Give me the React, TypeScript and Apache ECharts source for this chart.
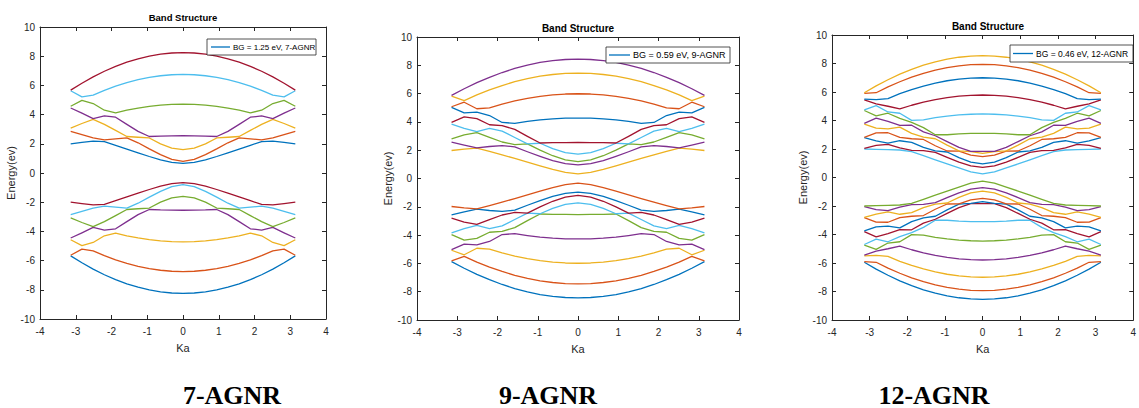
import React, { useEffect, useRef } from "react";
import * as echarts from "echarts";

// Ka sample points (-pi .. pi)
const ka = [-3.1416, -2.8274, -2.5133, -2.1991, -1.885, -1.5708, -1.2566, -0.9425, -0.6283, -0.3142, 0, 0.3142, 0.6283, 0.9425, 1.2566, 1.5708, 1.885, 2.1991, 2.5133, 2.8274, 3.1416];

const xTicks = [-4, -3, -2, -1, 0, 1, 2, 3, 4];
const yTicks = [-10, -8, -6, -4, -2, 0, 2, 4, 6, 8, 10];

const matlabColors = ["#0072BD", "#D95319", "#EDB120", "#7E2F8E", "#77AC30", "#4DBEEE", "#A2142F"];

// ---------- 7-AGNR (14 bands, sorted) ----------
const agnr7_b01 = [-5.68, -6.15, -6.58, -6.97, -7.30, -7.59, -7.82, -8.01, -8.14, -8.22, -8.25, -8.22, -8.14, -8.01, -7.82, -7.59, -7.30, -6.97, -6.58, -6.15, -5.68];
const agnr7_b02 = [-5.63, -5.21, -5.34, -5.66, -5.95, -6.19, -6.39, -6.55, -6.66, -6.73, -6.75, -6.73, -6.66, -6.55, -6.39, -6.19, -5.95, -5.66, -5.34, -5.21, -5.63];
const agnr7_b03 = [-4.57, -4.97, -4.76, -4.30, -4.12, -4.31, -4.45, -4.57, -4.65, -4.70, -4.72, -4.70, -4.65, -4.57, -4.45, -4.31, -4.12, -4.30, -4.76, -4.97, -4.57];
const agnr7_b04 = [-4.45, -4.10, -3.73, -3.91, -3.82, -3.33, -2.85, -2.50, -2.53, -2.54, -2.55, -2.54, -2.53, -2.50, -2.85, -3.33, -3.82, -3.91, -3.73, -4.10, -4.45];
const agnr7_b05 = [-3.08, -3.39, -3.67, -3.33, -2.92, -2.50, -2.45, -2.40, -2.00, -1.71, -1.60, -1.71, -2.00, -2.40, -2.45, -2.50, -2.92, -3.33, -3.67, -3.39, -3.08];
const agnr7_b06 = [-2.85, -2.63, -2.40, -2.27, -2.34, -2.40, -2.07, -1.65, -1.26, -0.94, -0.80, -0.94, -1.26, -1.65, -2.07, -2.40, -2.34, -2.27, -2.40, -2.63, -2.85];
const agnr7_b07 = [-2.00, -2.10, -2.19, -2.15, -1.90, -1.64, -1.38, -1.13, -0.90, -0.73, -0.66, -0.73, -0.90, -1.13, -1.38, -1.64, -1.90, -2.15, -2.19, -2.10, -2.00];
const agnr7_b08 = [2.00, 2.10, 2.19, 2.15, 1.90, 1.64, 1.38, 1.13, 0.90, 0.73, 0.66, 0.73, 0.90, 1.13, 1.38, 1.64, 1.90, 2.15, 2.19, 2.10, 2.00];
const agnr7_b09 = [2.85, 2.63, 2.40, 2.27, 2.34, 2.40, 2.07, 1.65, 1.26, 0.94, 0.80, 0.94, 1.26, 1.65, 2.07, 2.40, 2.34, 2.27, 2.40, 2.63, 2.85];
const agnr7_b10 = [3.08, 3.39, 3.67, 3.33, 2.92, 2.50, 2.45, 2.40, 2.00, 1.71, 1.60, 1.71, 2.00, 2.40, 2.45, 2.50, 2.92, 3.33, 3.67, 3.39, 3.08];
const agnr7_b11 = [4.45, 4.10, 3.73, 3.91, 3.82, 3.33, 2.85, 2.50, 2.53, 2.54, 2.55, 2.54, 2.53, 2.50, 2.85, 3.33, 3.82, 3.91, 3.73, 4.10, 4.45];
const agnr7_b12 = [4.57, 4.97, 4.76, 4.30, 4.12, 4.31, 4.45, 4.57, 4.65, 4.70, 4.72, 4.70, 4.65, 4.57, 4.45, 4.31, 4.12, 4.30, 4.76, 4.97, 4.57];
const agnr7_b13 = [5.63, 5.21, 5.34, 5.66, 5.95, 6.19, 6.39, 6.55, 6.66, 6.73, 6.75, 6.73, 6.66, 6.55, 6.39, 6.19, 5.95, 5.66, 5.34, 5.21, 5.63];
const agnr7_b14 = [5.68, 6.15, 6.58, 6.97, 7.30, 7.59, 7.82, 8.01, 8.14, 8.22, 8.25, 8.22, 8.14, 8.01, 7.82, 7.59, 7.30, 6.97, 6.58, 6.15, 5.68];

// ---------- 9-AGNR (18 bands, sorted) ----------
const agnr9_b01 = [-5.87, -6.34, -6.77, -7.15, -7.49, -7.78, -8.01, -8.20, -8.33, -8.41, -8.44, -8.41, -8.33, -8.20, -8.01, -7.78, -7.49, -7.15, -6.77, -6.34, -5.87];
const agnr9_b02 = [-5.82, -5.51, -5.91, -6.26, -6.57, -6.84, -7.06, -7.23, -7.35, -7.43, -7.45, -7.43, -7.35, -7.23, -7.06, -6.84, -6.57, -6.26, -5.91, -5.51, -5.82];
const agnr9_b03 = [-5.07, -5.39, -4.93, -4.99, -5.25, -5.48, -5.66, -5.80, -5.91, -5.97, -5.99, -5.97, -5.91, -5.80, -5.66, -5.48, -5.25, -4.99, -4.93, -5.39, -5.07];
const agnr9_b04 = [-5.02, -4.64, -4.69, -4.45, -3.96, -3.90, -4.03, -4.14, -4.21, -4.26, -4.27, -4.26, -4.21, -4.14, -4.03, -3.90, -3.96, -4.45, -4.69, -4.64, -5.02];
const agnr9_b05 = [-3.97, -4.35, -4.23, -3.80, -3.74, -3.47, -2.98, -2.51, -2.53, -2.54, -2.55, -2.54, -2.53, -2.51, -2.98, -3.47, -3.74, -3.80, -4.23, -4.35, -3.97];
const agnr9_b06 = [-3.84, -3.55, -3.32, -3.54, -3.35, -2.90, -2.45, -2.49, -2.11, -1.83, -1.72, -1.83, -2.11, -2.49, -2.45, -2.90, -3.35, -3.54, -3.32, -3.55, -3.84];
const agnr9_b07 = [-2.80, -3.08, -3.24, -2.91, -2.58, -2.40, -2.45, -2.01, -1.61, -1.32, -1.20, -1.32, -1.61, -2.01, -2.45, -2.40, -2.58, -2.91, -3.24, -3.08, -2.80];
const agnr9_b08 = [-2.57, -2.36, -2.17, -2.26, -2.33, -2.23, -1.89, -1.57, -1.27, -1.05, -0.97, -1.05, -1.27, -1.57, -1.89, -2.23, -2.33, -2.26, -2.17, -2.36, -2.57];
const agnr9_b09 = [-1.98, -2.08, -2.14, -1.91, -1.67, -1.42, -1.16, -0.90, -0.65, -0.44, -0.33, -0.44, -0.65, -0.90, -1.16, -1.42, -1.67, -1.91, -2.14, -2.08, -1.98];
const agnr9_b10 = [1.98, 2.08, 2.14, 1.91, 1.67, 1.42, 1.16, 0.90, 0.65, 0.44, 0.33, 0.44, 0.65, 0.90, 1.16, 1.42, 1.67, 1.91, 2.14, 2.08, 1.98];
const agnr9_b11 = [2.57, 2.36, 2.17, 2.26, 2.33, 2.23, 1.89, 1.57, 1.27, 1.05, 0.97, 1.05, 1.27, 1.57, 1.89, 2.23, 2.33, 2.26, 2.17, 2.36, 2.57];
const agnr9_b12 = [2.80, 3.08, 3.24, 2.91, 2.58, 2.40, 2.45, 2.01, 1.61, 1.32, 1.20, 1.32, 1.61, 2.01, 2.45, 2.40, 2.58, 2.91, 3.24, 3.08, 2.80];
const agnr9_b13 = [3.84, 3.55, 3.32, 3.54, 3.35, 2.90, 2.45, 2.49, 2.11, 1.83, 1.72, 1.83, 2.11, 2.49, 2.45, 2.90, 3.35, 3.54, 3.32, 3.55, 3.84];
const agnr9_b14 = [3.97, 4.35, 4.23, 3.80, 3.74, 3.47, 2.98, 2.51, 2.53, 2.54, 2.55, 2.54, 2.53, 2.51, 2.98, 3.47, 3.74, 3.80, 4.23, 4.35, 3.97];
const agnr9_b15 = [5.02, 4.64, 4.69, 4.45, 3.96, 3.90, 4.03, 4.14, 4.21, 4.26, 4.27, 4.26, 4.21, 4.14, 4.03, 3.90, 3.96, 4.45, 4.69, 4.64, 5.02];
const agnr9_b16 = [5.07, 5.39, 4.93, 4.99, 5.25, 5.48, 5.66, 5.80, 5.91, 5.97, 5.99, 5.97, 5.91, 5.80, 5.66, 5.48, 5.25, 4.99, 4.93, 5.39, 5.07];
const agnr9_b17 = [5.82, 5.51, 5.91, 6.26, 6.57, 6.84, 7.06, 7.23, 7.35, 7.43, 7.45, 7.43, 7.35, 7.23, 7.06, 6.84, 6.57, 6.26, 5.91, 5.51, 5.82];
const agnr9_b18 = [5.87, 6.34, 6.77, 7.15, 7.49, 7.78, 8.01, 8.20, 8.33, 8.41, 8.44, 8.41, 8.33, 8.20, 8.01, 7.78, 7.49, 7.15, 6.77, 6.34, 5.87];

// ---------- 12-AGNR (24 bands, sorted) ----------
const agnr12_b01 = [-5.95, -6.43, -6.86, -7.25, -7.59, -7.88, -8.12, -8.31, -8.44, -8.52, -8.55, -8.52, -8.44, -8.31, -8.12, -7.88, -7.59, -7.25, -6.86, -6.43, -5.95];
const agnr12_b02 = [-5.90, -5.95, -6.36, -6.72, -7.04, -7.31, -7.54, -7.71, -7.84, -7.92, -7.94, -7.92, -7.84, -7.71, -7.54, -7.31, -7.04, -6.72, -6.36, -5.95, -5.90];
const agnr12_b03 = [-5.50, -5.46, -5.54, -5.88, -6.17, -6.42, -6.63, -6.79, -6.91, -6.98, -7.00, -6.98, -6.91, -6.79, -6.63, -6.42, -6.17, -5.88, -5.54, -5.46, -5.50];
const agnr12_b04 = [-5.45, -5.17, -5.00, -4.81, -5.07, -5.29, -5.47, -5.61, -5.71, -5.77, -5.79, -5.77, -5.71, -5.61, -5.47, -5.29, -5.07, -4.81, -5.00, -5.17, -5.45];
const agnr12_b05 = [-4.75, -5.04, -4.60, -4.51, -4.01, -4.05, -4.20, -4.31, -4.39, -4.44, -4.46, -4.44, -4.39, -4.31, -4.20, -4.05, -4.01, -4.51, -4.60, -5.04, -4.75];
const agnr12_b06 = [-4.70, -4.33, -4.51, -4.15, -3.87, -3.50, -3.00, -3.00, -3.06, -3.09, -3.10, -3.09, -3.06, -3.00, -3.00, -3.50, -3.87, -4.15, -4.51, -4.33, -4.70];
const agnr12_b07 = [-3.80, -4.17, -3.94, -3.66, -3.67, -3.20, -2.93, -2.52, -2.11, -1.84, -1.84, -1.84, -2.11, -2.52, -2.93, -3.20, -3.67, -3.66, -3.94, -4.17, -3.80];
const agnr12_b08 = [-3.75, -3.46, -3.41, -3.53, -3.10, -2.83, -2.72, -2.27, -1.87, -1.81, -1.70, -1.81, -1.87, -2.27, -2.72, -2.83, -3.10, -3.53, -3.41, -3.46, -3.75];
const agnr12_b09 = [-2.82, -3.13, -3.14, -2.81, -2.72, -2.67, -2.23, -1.86, -1.85, -1.57, -1.46, -1.57, -1.85, -1.86, -2.23, -2.67, -2.72, -2.81, -3.14, -3.13, -2.82];
const agnr12_b10 = [-2.80, -2.57, -2.42, -2.58, -2.47, -2.11, -1.87, -1.79, -1.39, -1.08, -0.95, -1.08, -1.39, -1.79, -1.87, -2.11, -2.47, -2.58, -2.42, -2.57, -2.80];
const agnr12_b11 = [-2.05, -2.25, -2.33, -2.08, -1.91, -1.89, -1.76, -1.41, -1.08, -0.82, -0.71, -0.82, -1.08, -1.41, -1.76, -1.89, -1.91, -2.08, -2.33, -2.25, -2.05];
const agnr12_b12 = [-2.00, -1.98, -1.95, -1.93, -1.81, -1.53, -1.24, -0.95, -0.67, -0.40, -0.25, -0.40, -0.67, -0.95, -1.24, -1.53, -1.81, -1.93, -1.95, -1.98, -2.00];
const agnr12_b13 = [2.00, 1.98, 1.95, 1.93, 1.81, 1.53, 1.24, 0.95, 0.67, 0.40, 0.25, 0.40, 0.67, 0.95, 1.24, 1.53, 1.81, 1.93, 1.95, 1.98, 2.00];
const agnr12_b14 = [2.05, 2.25, 2.33, 2.08, 1.91, 1.89, 1.76, 1.41, 1.08, 0.82, 0.71, 0.82, 1.08, 1.41, 1.76, 1.89, 1.91, 2.08, 2.33, 2.25, 2.05];
const agnr12_b15 = [2.80, 2.57, 2.42, 2.58, 2.47, 2.11, 1.87, 1.79, 1.39, 1.08, 0.95, 1.08, 1.39, 1.79, 1.87, 2.11, 2.47, 2.58, 2.42, 2.57, 2.80];
const agnr12_b16 = [2.82, 3.13, 3.14, 2.81, 2.72, 2.67, 2.23, 1.86, 1.85, 1.57, 1.46, 1.57, 1.85, 1.86, 2.23, 2.67, 2.72, 2.81, 3.14, 3.13, 2.82];
const agnr12_b17 = [3.75, 3.46, 3.41, 3.53, 3.10, 2.83, 2.72, 2.27, 1.87, 1.81, 1.70, 1.81, 1.87, 2.27, 2.72, 2.83, 3.10, 3.53, 3.41, 3.46, 3.75];
const agnr12_b18 = [3.80, 4.17, 3.94, 3.66, 3.67, 3.20, 2.93, 2.52, 2.11, 1.84, 1.84, 1.84, 2.11, 2.52, 2.93, 3.20, 3.67, 3.66, 3.94, 4.17, 3.80];
const agnr12_b19 = [4.70, 4.33, 4.51, 4.15, 3.87, 3.50, 3.00, 3.00, 3.06, 3.09, 3.10, 3.09, 3.06, 3.00, 3.00, 3.50, 3.87, 4.15, 4.51, 4.33, 4.70];
const agnr12_b20 = [4.75, 5.04, 4.60, 4.51, 4.01, 4.05, 4.20, 4.31, 4.39, 4.44, 4.46, 4.44, 4.39, 4.31, 4.20, 4.05, 4.01, 4.51, 4.60, 5.04, 4.75];
const agnr12_b21 = [5.45, 5.17, 5.00, 4.81, 5.07, 5.29, 5.47, 5.61, 5.71, 5.77, 5.79, 5.77, 5.71, 5.61, 5.47, 5.29, 5.07, 4.81, 5.00, 5.17, 5.45];
const agnr12_b22 = [5.50, 5.46, 5.54, 5.88, 6.17, 6.42, 6.63, 6.79, 6.91, 6.98, 7.00, 6.98, 6.91, 6.79, 6.63, 6.42, 6.17, 5.88, 5.54, 5.46, 5.50];
const agnr12_b23 = [5.90, 5.95, 6.36, 6.72, 7.04, 7.31, 7.54, 7.71, 7.84, 7.92, 7.94, 7.92, 7.84, 7.71, 7.54, 7.31, 7.04, 6.72, 6.36, 5.95, 5.90];
const agnr12_b24 = [5.95, 6.43, 6.86, 7.25, 7.59, 7.88, 8.12, 8.31, 8.44, 8.52, 8.55, 8.52, 8.44, 8.31, 8.12, 7.88, 7.59, 7.25, 6.86, 6.43, 5.95];

const bands7 = [agnr7_b01, agnr7_b02, agnr7_b03, agnr7_b04, agnr7_b05, agnr7_b06, agnr7_b07, agnr7_b08, agnr7_b09, agnr7_b10, agnr7_b11, agnr7_b12, agnr7_b13, agnr7_b14];
const bands9 = [agnr9_b01, agnr9_b02, agnr9_b03, agnr9_b04, agnr9_b05, agnr9_b06, agnr9_b07, agnr9_b08, agnr9_b09, agnr9_b10, agnr9_b11, agnr9_b12, agnr9_b13, agnr9_b14, agnr9_b15, agnr9_b16, agnr9_b17, agnr9_b18];
const bands12 = [agnr12_b01, agnr12_b02, agnr12_b03, agnr12_b04, agnr12_b05, agnr12_b06, agnr12_b07, agnr12_b08, agnr12_b09, agnr12_b10, agnr12_b11, agnr12_b12, agnr12_b13, agnr12_b14, agnr12_b15, agnr12_b16, agnr12_b17, agnr12_b18, agnr12_b19, agnr12_b20, agnr12_b21, agnr12_b22, agnr12_b23, agnr12_b24];

const legendTexts = ["BG = 1.25 eV, 7-AGNR", "BG = 0.59 eV, 9-AGNR", "BG = 0.46 eV, 12-AGNR"];
const panelLabels = ["7-AGNR", "9-AGNR", "12-AGNR"];

// layout of the three panels (pixels)
const panels = [
  { bands: bands7, grid: { left: 40, top: 27, width: 286, height: 292 }, title: { x: 183, y: 17, size: 9.5 }, yName: 19, legend: { x: 207, y: 39, w: 109, h: 16, line: [211, 230], tx: 233, fs: 8 }, label: 232 },
  { bands: bands9, grid: { left: 417, top: 37, width: 322, height: 283 }, title: { x: 578, y: 28, size: 10 }, yName: 24, legend: { x: 606, y: 47, w: 124, h: 16, line: [609, 630], tx: 633, fs: 9 }, label: 548 },
  { bands: bands12, grid: { left: 832, top: 35, width: 312, height: 285 }, title: { x: 988, y: 26, size: 10 }, yName: 20, legend: { x: 1010, y: 45, w: 123, h: 17, line: [1013, 1033], tx: 1036, fs: 8.5 }, label: 934 },
];

const AX = "#262626";
const FONT = "Liberation Sans, Arial, Helvetica, sans-serif";

export default function App() {
  const ref = useRef<HTMLDivElement>(null);
  useEffect(() => {
    if (!ref.current) return;
    const chart = echarts.init(ref.current, null, { renderer: "svg" });
    const grids: any[] = [];
    const xAxes: any[] = [];
    const yAxes: any[] = [];
    const series: any[] = [];
    const graphic: any[] = [];
    panels.forEach((p, pi) => {
      grids.push({ ...p.grid, containLabel: false });
      const common = {
        gridIndex: pi,
        type: "value",
        axisLine: { show: true, onZero: false, lineStyle: { color: AX, width: 1 } },
        axisTick: { show: true, inside: true, length: 4, lineStyle: { color: AX } },
        splitLine: { show: false },
      };
      xAxes.push({
        ...common, position: "bottom", min: xTicks[0], max: xTicks[xTicks.length - 1], interval: 1,
        axisLabel: { color: AX, fontSize: 10, fontFamily: FONT, margin: 7 },
        name: "Ka", nameLocation: "middle", nameGap: 23,
        nameTextStyle: { color: AX, fontSize: 11, fontFamily: FONT },
      });
      xAxes.push({
        ...common, position: "top", min: xTicks[0], max: xTicks[xTicks.length - 1], interval: 1,
        axisLabel: { show: false },
      });
      yAxes.push({
        ...common, position: "left", min: yTicks[0], max: yTicks[yTicks.length - 1], interval: 2,
        axisLabel: { color: AX, fontSize: 10, fontFamily: FONT, margin: 5 },
        name: "Energy(ev)", nameLocation: "middle", nameGap: p.yName,
        nameTextStyle: { color: AX, fontSize: 11, fontFamily: FONT },
      });
      yAxes.push({
        ...common, position: "right", min: yTicks[0], max: yTicks[yTicks.length - 1], interval: 2,
        axisLabel: { show: false },
      });
      p.bands.forEach((b, bi) => {
        series.push({
          type: "line",
          name: bi === 0 ? legendTexts[pi] : `${panelLabels[pi]} band ${bi + 1}`,
          xAxisIndex: pi * 2,
          yAxisIndex: pi * 2,
          data: ka.map((x, k) => [x, b[k]]),
          showSymbol: false,
          symbol: "none",
          smooth: false,
          silent: true,
          lineStyle: { color: matlabColors[bi % 7], width: 1.3, join: "round" },
          z: 2,
        });
      });
      graphic.push({
        type: "text", x: p.title.x, y: p.title.y,
        style: { text: "Band Structure", fill: "#000", font: `bold ${p.title.size}px ${FONT}`, textAlign: "center", textVerticalAlign: "middle" },
      });
      const L = p.legend;
      graphic.push({ type: "rect", shape: { x: L.x, y: L.y, width: L.w, height: L.h }, style: { fill: "#fff", stroke: AX, lineWidth: 0.8 }, z: 10 });
      graphic.push({ type: "line", shape: { x1: L.line[0], y1: L.y + L.h / 2, x2: L.line[1], y2: L.y + L.h / 2 }, style: { stroke: matlabColors[0], lineWidth: 1.3 }, z: 11 });
      graphic.push({ type: "text", x: L.tx, y: L.y + L.h / 2, style: { text: legendTexts[pi], fill: "#000", font: `${L.fs}px ${FONT}`, textVerticalAlign: "middle" }, z: 11 });
      graphic.push({
        type: "text", x: p.label, y: 395,
        style: { text: panelLabels[pi], fill: "#000", font: `bold 26px "Liberation Serif", "Times New Roman", serif`, textAlign: "center", textVerticalAlign: "middle" },
      });
    });
    chart.setOption({
      animation: false,
      backgroundColor: "#fff",
      grid: grids,
      xAxis: xAxes,
      yAxis: yAxes,
      series,
      graphic,
    });
    return () => chart.dispose();
  }, []);
  return <div ref={ref} style={{ position: "fixed", left: 0, top: 0, width: 1139, height: 408, background: "#fff" }} />;
}
